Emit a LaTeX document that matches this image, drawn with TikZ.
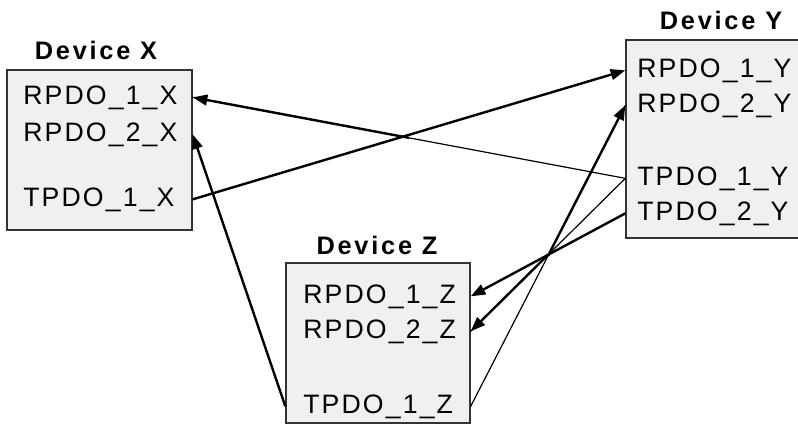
\documentclass[tikz,border=0pt]{standalone}
\usepackage{fontspec}
\setmainfont{Liberation Sans}
\newfontfamily\pdofont[LetterSpace=8]{Liberation Sans}
\newfontfamily\devfont[LetterSpace=11]{Liberation Sans}
\usetikzlibrary{calc,arrows.meta}

\tikzset{
	devbox/.style={draw=black!80, line width=1pt, fill=black!6, inner sep=0pt},
	devtitle/.style={anchor=base, inner sep=0pt, font=\devfont\bfseries\fontsize{19}{22}\selectfont},
	pdo/.style={anchor=base west, inner sep=0pt, font=\pdofont\fontsize{20}{24}\selectfont},
	link/.style={line width=1.8pt, -{Triangle[length=11pt,width=8pt]}},
	thinlink/.style={line width=0.9pt},
}

\begin{document}
\begin{tikzpicture}[x=0.75pt, y=-0.75pt]
		%%%%% START %%%%%
		\useasboundingbox (0,0) rectangle (798,425);
		
		% devices
		\node[devbox, minimum width=138.75pt, minimum height=120pt] (boxX) at (99.5,150) {};
		\node[devbox, minimum width=132pt, minimum height=148.5pt] (boxY) at (714,139) {};
		\node[devbox, minimum width=138pt, minimum height=120pt] (boxZ) at (378,343) {};
		
		\node[devtitle] (titleX) at (96,59) {Device X};
		\node[devtitle] (titleY) at (721,29) {Device Y};
		\node[devtitle] (titleZ) at (377,254) {Device Z};
		
		% objects
		\node[pdo] (rx1) at (23,104) {RPDO\_1\_X};
		\node[pdo] (rx2) at (23,141) {RPDO\_2\_X};
		\node[pdo] (tx1) at (23,206) {TPDO\_1\_X};
		
		\node[pdo] (ry1) at (637,77) {RPDO\_1\_Y};
		\node[pdo] (ry2) at (637,112) {RPDO\_2\_Y};
		\node[pdo] (ty1) at (637,185) {TPDO\_1\_Y};
		\node[pdo] (ty2) at (637,220) {TPDO\_2\_Y};
		
		\node[pdo] (rz1) at (303,303) {RPDO\_1\_Z};
		\node[pdo] (rz2) at (303,338) {RPDO\_2\_Z};
		\node[pdo] (tz1) at (303,413) {TPDO\_1\_Z};
		
		% ends on the box edges
		\coordinate (rx1e) at (boxX.east |- rx1);
		\coordinate (rx2e) at (boxX.east |- rx2);
		\coordinate (tx1e) at (boxX.east |- tx1);
		\coordinate (ry1w) at (boxY.west |- ry1);
		\coordinate (ry2w) at (boxY.west |- ry2);
		\coordinate (ty1w) at (boxY.west |- ty1);
		\coordinate (ty2w) at (boxY.west |- ty2);
		\coordinate (rz1e) at (boxZ.east |- rz1);
		\coordinate (rz2e) at (boxZ.east |- rz2);
		\coordinate (tz1e) at (boxZ.east |- tz1);
		\coordinate (tz1w) at (boxZ.west |- tz1);
		
		% mappings
		\draw[link] (tx1e) -- (ry1w);
		\draw[link] (tz1w) -- (rx2e);
		\draw[link] (ty2w) -- (rz1e);
		
		\draw[thinlink] (ty1w) -- (rx1e);
		\draw[link] ($(ty1w)!0.5!(rx1e)$) -- (rx1e);
		\draw[thinlink] (ty1w) -- (rz2e);
		\draw[link] ($(ty1w)!0.5!(rz2e)$) -- (rz2e);
		\draw[thinlink] (tz1e) -- (ry2w);
		\draw[link] ($(tz1e)!0.5!(ry2w)$) -- (ry2w);
		
		%%%%% END %%%%%
\end{tikzpicture}
\end{document}
